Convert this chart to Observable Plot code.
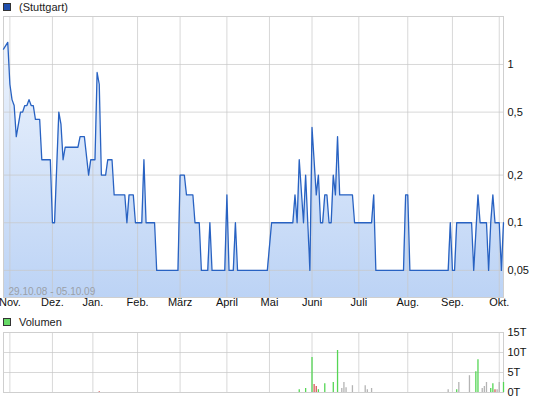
<!DOCTYPE html>
<html>
<head>
<meta charset="utf-8">
<script src="https://cdn.jsdelivr.net/npm/d3@7"></script>
<script src="https://cdn.jsdelivr.net/npm/@observablehq/plot@0.6"></script>
<style>
  html, body { margin: 0; padding: 0; background: #fff; }
  #wrap { position: relative; width: 545px; height: 401px; overflow: hidden;
          font-family: "Liberation Sans", Arial, sans-serif; font-size: 11px; color: #222; }
  .leg { position: absolute; left: 3px; display: flex; align-items: center; white-space: nowrap; }
  .sq { width: 6px; height: 6px; border: 1px solid #333; margin-right: 8px; box-sizing: content-box; }
  svg { position: absolute; left: 0; }
</style>
</head>
<body>
<div id="wrap">
  <div class="leg" style="top:1px"><span class="sq" style="background:#1f4fae"></span><span>(Stuttgart)</span></div>
  <div class="leg" style="top:316px"><span class="sq" style="background:#66d966"></span><span>Volumen</span></div>
</div>
<script>
// ---- data ----
const months = ["Nov.","Dez.","Jan.","Feb.","März","April","Mai","Juni","Juli","Aug.","Sep.","Okt."];
const monthStart = [0,20,39,60,80,102,122,142,164,187,208,230];   // trading-day index of month start
const dayRange = [-3, 232];                                       // 29.10.08 .. 05.10.09
const rangeLabel = "29.10.08 - 05.10.09";

const priceTicks = [0.05, 0.1, 0.2, 0.5, 1];
const priceTickLabels = ["0,05", "0,1", "0,2", "0,5", "1"];

const priceDay = [-3,-1,0,1,2,3,5,6,7,8,9,10,11,12,14,15,19,20,21,23,24,25,26,32,33,35,37,38,40,41,42,43,45,46,48,49,54,55,56,58,59,62,63,64,68,69,79,80,82,83,86,87,89,90,93,94,95,101,102,103,105,106,107,121,123,133,134,135,136,138,139,140,141,142,144,145,146,147,148,149,150,151,152,153,154,155,161,162,170,171,172,185,186,187,188,206,207,208,209,210,217,218,220,221,224,225,226,227,228,230,231,232];
const priceVal = [1.25,1.38,0.75,0.6,0.55,0.35,0.5,0.5,0.55,0.55,0.6,0.55,0.55,0.45,0.45,0.25,0.25,0.1,0.1,0.5,0.42,0.25,0.3,0.3,0.35,0.35,0.2,0.25,0.25,0.89,0.75,0.2,0.2,0.25,0.25,0.15,0.15,0.1,0.15,0.15,0.1,0.1,0.25,0.1,0.1,0.05,0.05,0.2,0.2,0.15,0.15,0.1,0.1,0.05,0.05,0.1,0.05,0.05,0.15,0.05,0.05,0.1,0.05,0.05,0.1,0.1,0.15,0.1,0.25,0.1,0.2,0.1,0.05,0.4,0.15,0.2,0.1,0.1,0.15,0.15,0.1,0.1,0.2,0.15,0.35,0.15,0.15,0.1,0.1,0.15,0.05,0.05,0.15,0.15,0.05,0.05,0.1,0.05,0.05,0.1,0.1,0.05,0.15,0.1,0.1,0.05,0.1,0.15,0.1,0.1,0.05,0.1];

const volTicks = [0, 5, 10, 15];
const volDay = [42,136,139,142,143,144,145,148,152,154,156,157,158,161,167,168,170,206,210,211,216,219,220,222,223,224,226,227,228,229,230,232];
const volVal = [0.2,0.7,1,8.75,2,1.5,0.7,2.2,2.5,10.5,1,2.5,1.2,1.7,1.7,0.7,1,0.7,0.7,2.5,4.2,5.2,8.2,1,1.5,2.5,1,2.2,0.7,0.7,2.5,2.5];
const volDir = ["down","up","up","up","down","down","up","up","up","up","flat","flat","flat","flat","flat","flat","flat","flat","up","flat","flat","up","up","flat","flat","flat","up","up","down","flat","flat","up"];

// ---- tables ----
const price = priceDay.map((d, i) => ({day: d, v: priceVal[i]}));
const vol = volDay.map((d, i) => ({day: d, v: volVal[i], dir: volDir[i]}));
const yTicks = priceTicks.map((d, i) => ({v: d, label: priceTickLabels[i]}));
const yDomain = [0.0337, 2.01];
const monthLabel = new Map(monthStart.map((d, i) => [d, months[i]]));

const font = "'Liberation Sans', Arial, sans-serif";

// ---- price panel ----
const main = Plot.plot({
  width: 545, height: 316,
  marginTop: 16, marginBottom: 19, marginLeft: 3, marginRight: 42,
  style: {fontFamily: font, fontSize: "11px", color: "#111", background: "transparent", overflow: "visible"},
  x: {type: "linear", domain: dayRange, label: null},
  y: {type: "log", domain: yDomain, label: null, axis: null},
  marks: [
    Plot.areaY(price, {x: "day", y1: () => yDomain[0], y2: "v", fill: "#c6d9f6"}),
    Plot.gridX(monthStart, {stroke: "#c8c8c8", strokeOpacity: 0.7}),
    Plot.ruleY(yTicks, {y: "v", stroke: "#c8c8c8", strokeOpacity: 0.7}),
    Plot.frame({stroke: "#cfcfcf"}),
    Plot.lineY(price, {x: "day", y: "v", stroke: "#2862c2", strokeWidth: 1.3}),
    Plot.text([rangeLabel], {frameAnchor: "bottom-left", dx: 5, dy: -3, textAnchor: "start", lineAnchor: "bottom", fill: "#9aa0a8", fontSize: 10}),
    Plot.axisX(monthStart, {label: null, tickSize: 0, tickPadding: 1, tickFormat: d => monthLabel.get(d), fontSize: 11}),
    Plot.text(yTicks, {y: "v", text: "label", frameAnchor: "right", dx: 4, textAnchor: "start", fill: "#111", fontSize: 11})
  ]
});
main.style.top = "0px";

// gradient for area
const defs = d3.select(main).insert("defs", ":first-child");
const grad = defs.append("linearGradient").attr("id", "areaGrad")
  .attr("gradientUnits", "userSpaceOnUse").attr("x1", 0).attr("y1", 16).attr("x2", 0).attr("y2", 297);
grad.append("stop").attr("offset", "0%").attr("stop-color", "#f2f7fe");
grad.append("stop").attr("offset", "100%").attr("stop-color", "#bcd3f5");
d3.select(main).selectAll("g[aria-label='area'] path").attr("fill", "url(#areaGrad)");

document.getElementById("wrap").appendChild(main);

// ---- volume panel ----
const volPlot = Plot.plot({
  width: 545, height: 84,
  marginTop: 15, marginBottom: 9, marginLeft: 3, marginRight: 42,
  style: {fontFamily: font, fontSize: "11px", color: "#111", background: "transparent", overflow: "visible"},
  x: {type: "linear", domain: dayRange, axis: null, label: null},
  y: {domain: [0, 15], label: null},
  color: {domain: ["up", "down", "flat"], range: ["#55d655", "#d85a5a", "#b4b4b4"]},
  marks: [
    Plot.gridX(monthStart, {stroke: "#c8c8c8", strokeOpacity: 0.7}),
    Plot.gridY(volTicks, {stroke: "#c8c8c8", strokeOpacity: 0.7}),
    Plot.frame({stroke: "#cfcfcf"}),
    Plot.ruleX(vol, {x: "day", y1: 0, y2: "v", stroke: "dir", strokeWidth: 1.3}),
    Plot.axisY(volTicks, {label: null, anchor: "right", tickSize: 0, tickPadding: 4, textAnchor: "start", tickFormat: d => d + "T", fontSize: 11})
  ]
});
volPlot.style.top = "317px";
document.getElementById("wrap").appendChild(volPlot);
</script>
</body>
</html>
